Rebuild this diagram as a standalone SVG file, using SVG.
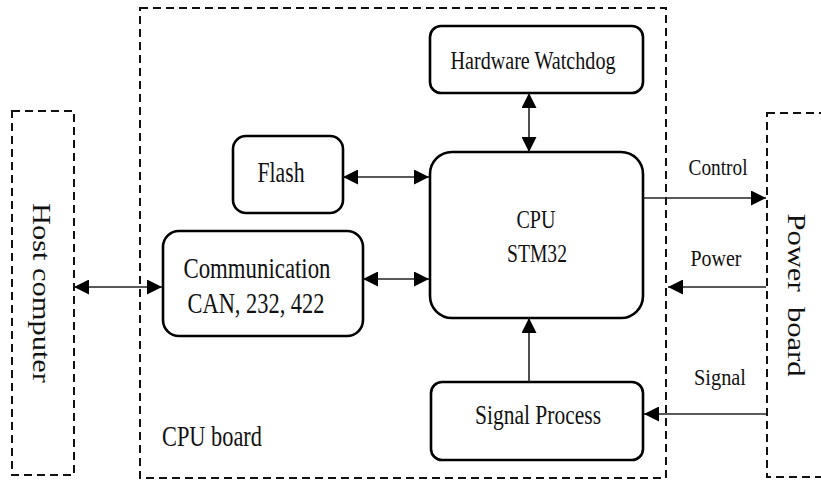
<svg xmlns="http://www.w3.org/2000/svg" width="821" height="480" viewBox="0 0 821 480">
<style>
.dash{fill:none;stroke:#111;stroke-width:2;stroke-dasharray:8,5}
.box{fill:#fff;stroke:#000;stroke-width:2.6}
.t{font-family:"Liberation Serif","Times New Roman",serif;fill:#111;text-anchor:middle}
.c{fill:none;stroke:#222;stroke-width:1.6}
</style>
<defs>
<marker id="ah" markerUnits="userSpaceOnUse" markerWidth="15" markerHeight="15" refX="15" refY="7.5" orient="auto-start-reverse">
<path d="M0,0 L15,7.5 L0,15 z" fill="#000"/>
</marker>
</defs>
<rect width="821" height="480" fill="#fff"/>
<g id="cpu-board">
<rect class="dash" x="140" y="8" width="526" height="470"/>
<text class="t" x="212" y="446" font-size="30" textLength="100" lengthAdjust="spacingAndGlyphs">CPU board</text>
</g>
<g id="host-computer">
<rect class="dash" x="12" y="111" width="62" height="364"/>
<text class="t" transform="translate(33,293) rotate(90)" font-size="26" textLength="180" lengthAdjust="spacingAndGlyphs">Host computer</text>
</g>
<g id="power-board">
<rect class="dash" x="767" y="113" width="80" height="364"/>
<text class="t" transform="translate(788,295) rotate(90)" font-size="26" textLength="163" lengthAdjust="spacingAndGlyphs" xml:space="preserve">Power  board</text>
</g>
<g id="watchdog">
<rect class="box" x="430" y="26" width="213" height="67" rx="11"/>
<text class="t" x="533" y="69" font-size="26" textLength="165" lengthAdjust="spacingAndGlyphs">Hardware Watchdog</text>
</g>
<g id="flash">
<rect class="box" x="233" y="136" width="110" height="77" rx="13"/>
<text class="t" x="281" y="182" font-size="30" textLength="47" lengthAdjust="spacingAndGlyphs">Flash</text>
</g>
<g id="communication">
<rect class="box" x="163" y="231" width="200" height="105" rx="16"/>
<text class="t" x="257" y="278" font-size="30" textLength="147" lengthAdjust="spacingAndGlyphs">Communication</text>
<text class="t" x="256" y="313" font-size="30" textLength="137" lengthAdjust="spacingAndGlyphs">CAN, 232, 422</text>
</g>
<g id="cpu">
<rect class="box" x="430" y="152" width="213" height="166" rx="22"/>
<text class="t" x="536" y="228" font-size="26" textLength="39" lengthAdjust="spacingAndGlyphs">CPU</text>
<text class="t" x="537" y="262" font-size="26" textLength="60" lengthAdjust="spacingAndGlyphs">STM32</text>
</g>
<g id="signal-process">
<rect class="box" x="431" y="382" width="212" height="78" rx="11"/>
<text class="t" x="538" y="424" font-size="27" textLength="126" lengthAdjust="spacingAndGlyphs">Signal Process</text>
</g>
<g id="connectors">
<path class="c" d="M74,287 H162" marker-start="url(#ah)" marker-end="url(#ah)"/>
<path class="c" d="M343,177 H429" marker-start="url(#ah)" marker-end="url(#ah)"/>
<path class="c" d="M363,279 H429" marker-start="url(#ah)" marker-end="url(#ah)"/>
<path class="c" d="M529,93 V152" marker-start="url(#ah)" marker-end="url(#ah)"/>
<path class="c" d="M529,382 V318" marker-end="url(#ah)"/>
<path class="c" d="M643,198 H766" marker-end="url(#ah)"/>
<path class="c" d="M766,287 H668" marker-end="url(#ah)"/>
<path class="c" d="M766,414 H644" marker-end="url(#ah)"/>
<text class="t" x="718" y="175" font-size="23" textLength="59" lengthAdjust="spacingAndGlyphs">Control</text>
<text class="t" x="716" y="266" font-size="23" textLength="51" lengthAdjust="spacingAndGlyphs">Power</text>
<text class="t" x="720" y="385" font-size="23" textLength="52" lengthAdjust="spacingAndGlyphs">Signal</text>
</g>
</svg>
